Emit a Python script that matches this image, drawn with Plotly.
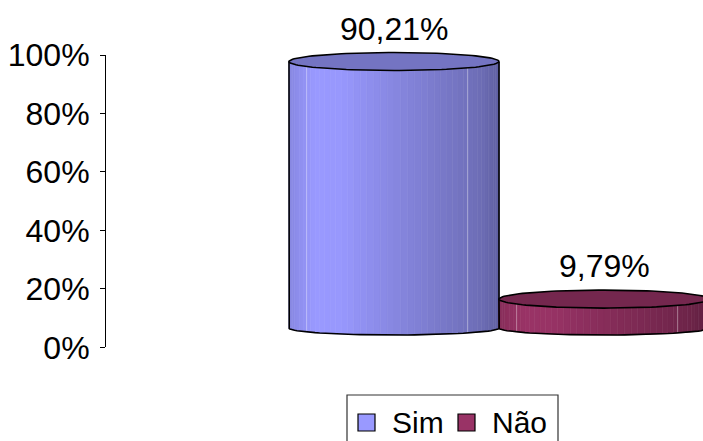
import numpy as np
import plotly.graph_objects as go

# ---- data -------------------------------------------------------------
categories = ["Sim", "Não"]
values = [90.21, 9.79]
tick_values = [0, 20, 40, 60, 80, 100]
tick_text = ["0%", "20%", "40%", "60%", "80%", "100%"]

# ---- styling ----------------------------------------------------------
W, H = 703, 441
FONT = "Liberation Sans, Arial, Helvetica, sans-serif"
BASE_COLORS = ["#9999FF", "#993366"]
OUTLINE = "#000000"

# horizontal shading profile across the cylinder face (fraction -> brightness)
SHADE_F = [0.0, 0.12, 0.25, 0.50, 0.75, 0.90, 1.0]
SHADE_K = [0.88, 1.00, 0.99, 0.88, 0.78, 0.72, 0.64]
TOP_K = 0.76
FACET_F = [0.084, 0.85]   # faint facet edges on the side wall

# geometry of the cylinder plane (front plane of the 3-D box)
PX_PER_X = 210.0          # pixels per category step
PX_PER_PCT = 2.954        # pixels per percentage point
X0_PX, Y0_PX = 394.0, 328.0
X_RANGE = [-X0_PX / PX_PER_X, (W - X0_PX) / PX_PER_X]
Y_RANGE = [(Y0_PX - H) / PX_PER_PCT, Y0_PX / PX_PER_PCT]
RADIUS = 0.5
TOP_B = 9.0 / PX_PER_PCT
BOT_B = 7.0 / PX_PER_PCT
N_STRIPS = 48


def shade(hexcol, k):
    h = hexcol.lstrip("#")
    r, g, b = (int(h[i:i + 2], 16) for i in (0, 2, 4))
    return "rgb({},{},{})".format(*(int(round(min(255, c * k))) for c in (r, g, b)))


fig = go.Figure()

for i, (cat, v) in enumerate(zip(categories, values)):
    base = BASE_COLORS[i]
    c = float(i)
    phi = np.linspace(np.pi, 0, N_STRIPS + 1)
    xs = c + RADIUS * np.cos(phi)
    ybot = -BOT_B * np.sin(phi)

    # shaded side wall, drawn as vertical strips
    for k in range(N_STRIPS):
        f = ((xs[k] + xs[k + 1]) / 2 - (c - RADIUS)) / (2 * RADIUS)
        col = shade(base, float(np.interp(f, SHADE_F, SHADE_K)))
        fig.add_trace(go.Scatter(
            x=[xs[k], xs[k + 1], xs[k + 1], xs[k], xs[k]],
            y=[v, v, ybot[k + 1], ybot[k], v],
            mode="lines", fill="toself", fillcolor=col,
            line=dict(color=col, width=0.6),
            hoverinfo="skip", showlegend=False,
        ))

    # faint facet edges
    for f in FACET_F:
        xf = c - RADIUS + 2 * RADIUS * f
        yb = -BOT_B * np.sqrt(max(0.0, 1 - ((xf - c) / RADIUS) ** 2))
        fig.add_trace(go.Scatter(
            x=[xf, xf], y=[v, yb], mode="lines",
            line=dict(color="rgba(255,255,255,0.35)", width=1),
            hoverinfo="skip", showlegend=False,
        ))

    # outline of the side wall
    fig.add_trace(go.Scatter(
        x=[c - RADIUS] + list(xs) + [c + RADIUS],
        y=[v] + list(ybot) + [v],
        mode="lines", line=dict(color=OUTLINE, width=1.6),
        hoverinfo="skip", showlegend=False,
    ))

    # top cap
    t = np.linspace(0, 2 * np.pi, 121)
    fig.add_trace(go.Scatter(
        x=c + RADIUS * np.cos(t), y=v + TOP_B * np.sin(t),
        mode="lines", fill="toself", fillcolor=shade(base, TOP_K),
        line=dict(color=OUTLINE, width=1.6),
        hoverinfo="skip", showlegend=False,
    ))

    # value label
    fig.add_annotation(
        x=c, y=v, xref="x", yref="y", yshift=33,
        text=f"{v:.2f}".replace(".", ",") + "%",
        showarrow=False, font=dict(family=FONT, size=32, color="#000000"),
    )

# carrier trace for the percentage axis
fig.add_trace(go.Scatter(x=[None], y=[None], yaxis="y2", showlegend=False,
                         hoverinfo="skip"))

# ---- legend (boxed, below the chart) ---------------------------------
def px(x):
    return x / W


def py(y):
    return 1 - y / H


fig.add_shape(type="rect", xref="paper", yref="paper",
              x0=px(347), x1=px(558), y0=py(446), y1=py(395),
              line=dict(color="#333333", width=1.2), fillcolor="#FFFFFF")
legend_x = [358, 458]
text_x = [390, 490]
for i, cat in enumerate(categories):
    fig.add_shape(type="rect", xref="paper", yref="paper",
                  x0=px(legend_x[i]), x1=px(legend_x[i] + 17),
                  y0=py(431), y1=py(414),
                  line=dict(color=OUTLINE, width=1.2), fillcolor=BASE_COLORS[i])
    fig.add_annotation(x=px(text_x[i]), y=py(422), xref="paper", yref="paper",
                       xanchor="left", yanchor="middle", text=cat,
                       showarrow=False,
                       font=dict(family=FONT, size=30, color="#000000"))

fig.update_layout(
    width=W, height=H,
    margin=dict(l=0, r=0, t=0, b=0, pad=0, autoexpand=False),
    paper_bgcolor="#FFFFFF", plot_bgcolor="rgba(0,0,0,0)",
    hovermode=False, showlegend=False,
    font=dict(family=FONT, color="#000000"),
    xaxis=dict(range=X_RANGE, visible=False, domain=[0, 1], fixedrange=True),
    yaxis=dict(range=Y_RANGE, visible=False, domain=[0, 1], fixedrange=True),
    yaxis2=dict(
        range=[0, 100], domain=[1 - 347.3 / H, 1 - 55.0 / H],
        anchor="free", position=105 / W,
        tickvals=tick_values, ticktext=tick_text,
        ticks="outside", ticklen=5, tickwidth=1, tickcolor="#000000",
        showline=True, linecolor="#000000", linewidth=1,
        showgrid=False, zeroline=False, ticklabelstandoff=4,
        tickfont=dict(family=FONT, size=32, color="#000000"),
        fixedrange=True,
    ),
)

fig.write_html("out.html")
